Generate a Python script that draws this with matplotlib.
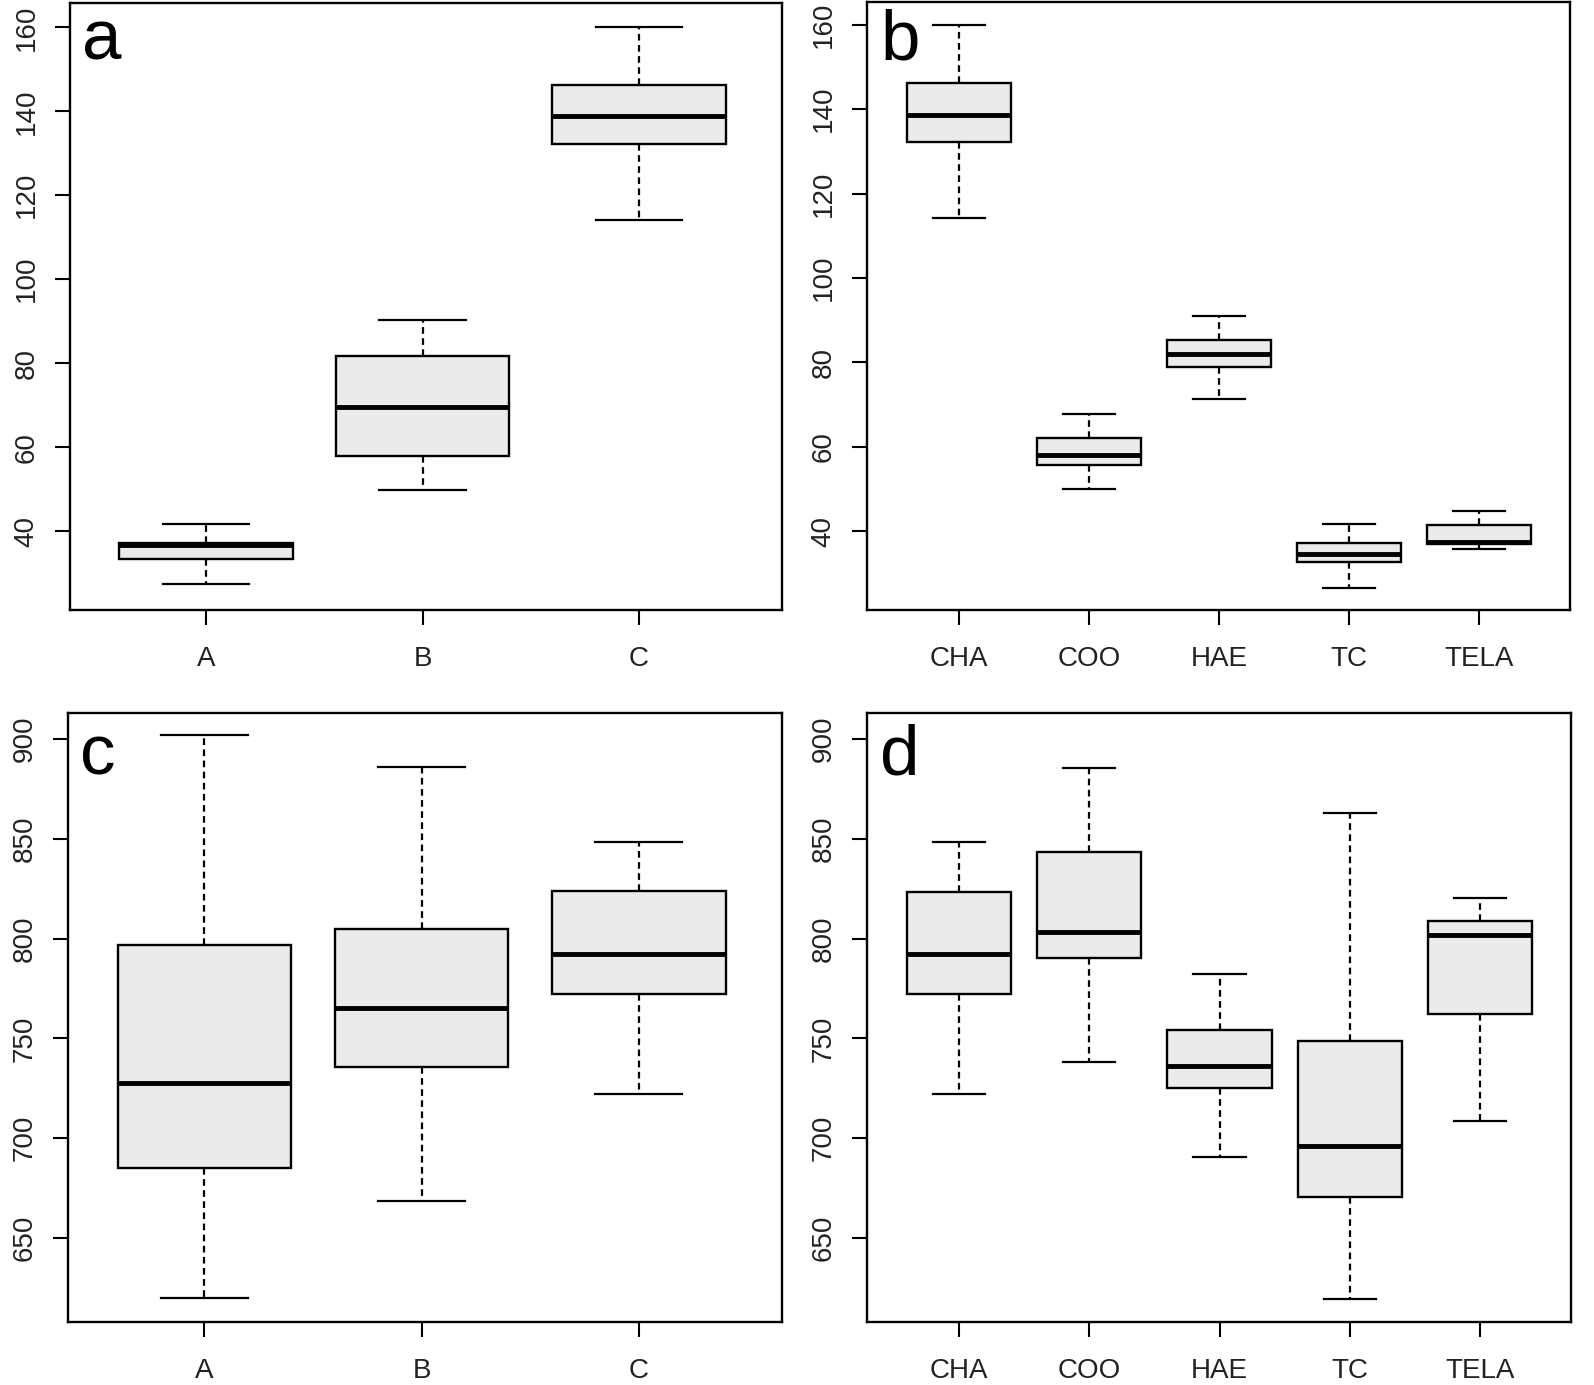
import matplotlib
matplotlib.use('Agg')
import matplotlib.pyplot as plt

W, H = 1594, 1385
plt.rcParams['font.family'] = ['Liberation Sans', 'DejaVu Sans']

# ---------------- data ----------------
groups_abc = ['A', 'B', 'C']
groups_sp = ['CHA', 'COO', 'HAE', 'TC', 'TELA']

# panel a
a_low = [27.4, 49.8, 114.2]
a_q1 = [33.3, 57.8, 132.3]
a_med = [36.8, 69.5, 138.8]
a_q3 = [37.2, 81.6, 146.3]
a_high = [41.7, 90.4, 160.0]

# panel b
b_low = [114.2, 49.9, 71.2, 26.6, 35.7]
b_q1 = [132.2, 55.6, 78.8, 32.6, 36.9]
b_med = [138.7, 58.0, 82.0, 34.6, 37.5]
b_q3 = [146.3, 62.1, 85.3, 37.1, 41.4]
b_high = [160.0, 67.7, 90.9, 41.7, 44.8]

# panel c
c_low = [620.0, 668.4, 722.4]
c_q1 = [685.2, 735.7, 772.4]
c_med = [727.6, 765.3, 792.3]
c_q3 = [797.0, 805.0, 824.0]
c_high = [902.0, 886.2, 848.5]

# panel d
d_low = [722.4, 738.3, 690.8, 619.4, 708.7]
d_q1 = [772.2, 790.3, 725.0, 670.4, 762.2]
d_med = [792.2, 803.1, 736.2, 696.0, 802.0]
d_q3 = [823.2, 843.4, 754.1, 748.5, 808.7]
d_high = [848.5, 885.7, 782.1, 862.8, 820.4]

yticks_top = [40, 60, 80, 100, 120, 140, 160]
yticks_bot = [650, 700, 750, 800, 850, 900]

# ---------------- figure ----------------
fig = plt.figure(figsize=(W / 100, H / 100), dpi=100)


def ax_at(left, right, top, bottom):
    return fig.add_axes([left / W, 1 - bottom / H, (right - left) / W, (bottom - top) / H])


FILL = '#ebebeb'
TXT = '#222222'
FS = 20


def panel(ax, labels, low, q1, med, q3, high, yticks, ylim, xlim):
    stats = []
    for i, lab in enumerate(labels):
        stats.append(dict(label=lab, whislo=low[i], q1=q1[i], med=med[i],
                          q3=q3[i], whishi=high[i], fliers=[]))
    ax.bxp(stats, positions=list(range(1, len(labels) + 1)), widths=0.8,
           patch_artist=True, showfliers=False, capwidths=0.4,
           boxprops=dict(facecolor=FILL, edgecolor='black', linewidth=1.7),
           medianprops=dict(color='black', linewidth=3.5, solid_capstyle='butt'),
           whiskerprops=dict(color='black', linewidth=1.6, linestyle=(0, (3, 2))),
           capprops=dict(color='black', linewidth=1.6))
    ax.set_xlim(*xlim)
    ax.set_ylim(*ylim)
    ax.set_yticks(yticks)
    ax.set_yticklabels([str(v) for v in yticks], rotation=90, va='center',
                       fontsize=FS, color=TXT)
    ax.set_xticks(list(range(1, len(labels) + 1)))
    ax.set_xticklabels(labels, fontsize=FS, color=TXT)
    ax.tick_params(axis='y', length=11, width=1.5, pad=11)
    ax.tick_params(axis='x', length=11, width=1.5, pad=15)
    for s in ax.spines.values():
        s.set_linewidth(1.7)
        s.set_color('black')
    return ax


axa = ax_at(70, 782, 3, 610)
panel(axa, groups_abc, a_low, a_q1, a_med, a_q3, a_high, yticks_top,
      (21.2, 165.8), (0.372, 3.66))
axb = ax_at(867, 1570, 2, 610)
panel(axb, groups_sp, b_low, b_q1, b_med, b_q3, b_high, yticks_top,
      (21.3, 165.4), (0.292, 5.70))
axc = ax_at(68, 782, 713, 1322)
panel(axc, groups_abc, c_low, c_q1, c_med, c_q3, c_high, yticks_bot,
      (608, 913), (0.372, 3.66))
axd = ax_at(867, 1571, 713, 1322)
panel(axd, groups_sp, d_low, d_q1, d_med, d_q3, d_high, yticks_bot,
      (608, 913), (0.292, 5.70))

# panel letters (left x, baseline y in pixels)
for letter, (px, py) in {'a': (82, 59), 'b': (880, 59), 'c': (80, 775), 'd': (880, 775)}.items():
    fig.text(px / W, 1 - py / H, letter, fontsize=51, ha='left', va='baseline', color='black')

fig.savefig('out.png', dpi=100, facecolor='white')
